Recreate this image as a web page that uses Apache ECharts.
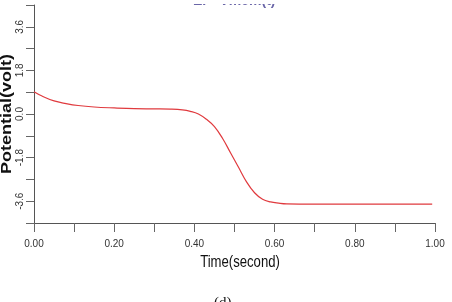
<!DOCTYPE html>
<html>
<head>
<meta charset="utf-8">
<script src="https://cdn.jsdelivr.net/npm/echarts@6/dist/echarts.min.js"></script>
<style>html,body{margin:0;padding:0;background:#fff;}#c{width:452px;height:302px;}</style>
</head>
<body>
<div id="c"></div>
<script>
var times = [0, 0.02, 0.05, 0.08, 0.11, 0.15, 0.20, 0.25, 0.30, 0.34, 0.37, 0.39, 0.41, 0.43, 0.45, 0.47, 0.49, 0.51, 0.53, 0.55, 0.57, 0.59, 0.61, 0.63, 0.70, 0.80, 0.90, 0.993];
var potential = [0.92, 0.74, 0.54, 0.43, 0.35, 0.29, 0.25, 0.22, 0.21, 0.20, 0.17, 0.11, 0.0, -0.22, -0.52, -1.0, -1.6, -2.2, -2.8, -3.25, -3.52, -3.63, -3.68, -3.71, -3.72, -3.72, -3.72, -3.72];
var xTickLabels = ['0.00', '0.20', '0.40', '0.60', '0.80', '1.00'];
var yTickLabels = ['-3.6', '-1.8', '0.0', '1.8', '3.6'];
var xTitle = 'Time(second)';
var yTitle = 'Potential(volt)';
var caption = '(d)';

var sans = "'Liberation Sans Narrow','Arial Narrow','Liberation Sans',Arial,sans-serif";
var chart = echarts.init(document.getElementById('c'), null, {renderer: 'canvas'});
var data = times.map(function (t, i) { return [t, potential[i]]; });
chart.setOption({
  animation: false,
  backgroundColor: '#fff',
  grid: {left: 34, right: 17, top: 5, bottom: 79, containLabel: false, outerBoundsMode: 'none'},
  xAxis: {
    type: 'value', min: 0, max: 1, interval: 0.1,
    axisLine: {show: true, onZero: false, lineStyle: {color: '#555', width: 1}},
    axisTick: {show: true, length: 9, lineStyle: {color: '#666'}},
    splitLine: {show: false},
    axisLabel: {
      margin: 16, fontFamily: sans, fontSize: 10, color: '#333',
      formatter: function (v) {
        var s = v.toFixed(2);
        return xTickLabels.indexOf(s) >= 0 ? s : '';
      }
    }
  },
  yAxis: {
    type: 'value', min: -4.5, max: 4.5, interval: 0.9,
    axisLine: {show: true, onZero: false, lineStyle: {color: '#555', width: 1}},
    axisTick: {show: true, length: 8, lineStyle: {color: '#666'}},
    splitLine: {show: false},
    axisLabel: {
      rotate: 90, margin: 9, fontFamily: sans, fontSize: 10, color: '#333',
      formatter: function (v) {
        var s = (Math.abs(v) < 1e-9 ? 0 : v).toFixed(1);
        return yTickLabels.indexOf(s) >= 0 ? s : '';
      }
    }
  },
  graphic: [
    {type: 'text', x: 7, y: 114, rotation: Math.PI / 2, scaleY: 0.85,
     style: {text: yTitle, font: 'bold 18px "Liberation Sans", Arial, sans-serif', fill: '#111', textAlign: 'center', textVerticalAlign: 'middle'}},
    {type: 'text', x: 240, y: 263, scaleX: 0.82,
     style: {text: xTitle, font: '16px ' + sans, fill: '#111', textAlign: 'center', textVerticalAlign: 'middle'}},
    {type: 'text', left: 214, top: 296,
     style: {text: caption, font: '15px "Liberation Serif", "Times New Roman", serif', fill: '#111'}},
    {type: 'text', x: 193, y: 8, z: 10,
     style: {text: 'EP  Vmem(t)', font: 'bold 14px ' + sans, fill: '#6a66a8', textVerticalAlign: 'bottom'}},
    {type: 'rect', z: 100, shape: {x: 180, y: 0, width: 120, height: 4}, style: {fill: '#fff'}}
  ],
  series: [{
    type: 'line', data: data, smooth: 0.4, showSymbol: false,
    lineStyle: {color: '#e03a3e', width: 1.2}
  }]
});
</script>
</body>
</html>
